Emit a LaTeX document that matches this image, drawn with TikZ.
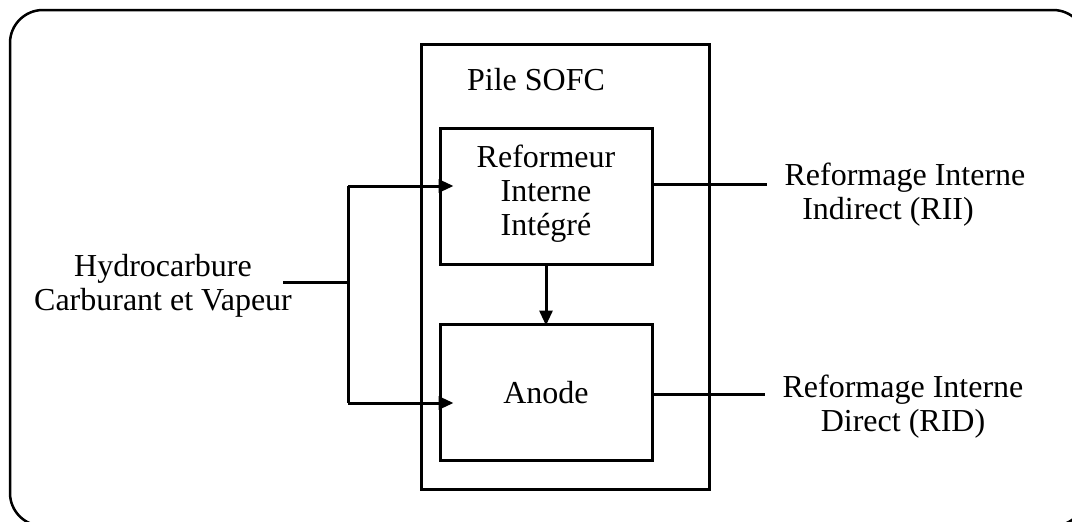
\documentclass[tikz,border=0pt]{standalone}
\usepackage{fontspec}
\setmainfont{Liberation Serif}
\usetikzlibrary{arrows.meta}
\begin{document}
\begin{tikzpicture}[x=1pt,y=-1pt,
  box/.style={draw,line width=3pt,rectangle,minimum width=212pt,minimum height=136pt,inner sep=0pt},
  txt/.style={font=\fontsize{32}{34}\selectfont,align=center,inner sep=0pt},
  line/.style={line width=3pt},
  arr/.style={line width=3pt,-{Triangle[length=15pt,width=13pt]}}]
\clip (0,0) rectangle (1072,522);
\fill[white] (0,0) rectangle (1072,522);
\draw[line width=2.5pt,rounded corners=33pt] (10,10) rectangle (1086,526);
% boxes
\node[box,minimum width=288pt,minimum height=445pt] (pile) at (565,266.5) {};
\node[txt] (pilelbl) at (536,80) {Pile SOFC};
\node[box] (ref) at (546,196) {};
\node[txt] (reflbl) at (546,194) {Reformeur\\Interne\\Intégré};
\node[box] (anode) at (546,392) {};
\node[txt] (anodelbl) at (546,393) {Anode};
% left feed
\node[txt] (hc) at (163,286) {Hydrocarbure\\Carburant et Vapeur};
\coordinate (in) at (283,282);
\coordinate (j) at (348,282);
\coordinate (jt) at (348,186);
\coordinate (jb) at (348,403);
\draw[line] (in) -- (j);
\draw[line] (jt) -- (jb);
\draw[arr] ([yshift=0pt]jt) -- ([xshift=15pt]ref.west |- jt);
\draw[arr] (jb) -- ([xshift=15pt]anode.west |- jb);
% ref -> anode
\draw[arr] (ref.south) -- ([yshift=-3pt]anode.north);
% right outputs
\coordinate (r1) at (767,184);
\coordinate (r2) at (765,394);
\draw[line] (ref.east |- r1) -- (r1);
\draw[line] (anode.east |- r2) -- (r2);
\node[txt] (rii) at (905,195) {Reformage Interne\\Indirect (RII)\hspace*{34pt}};
\node[txt] (rid) at (903,407) {Reformage Interne\\Direct (RID)};
\end{tikzpicture}
\end{document}
